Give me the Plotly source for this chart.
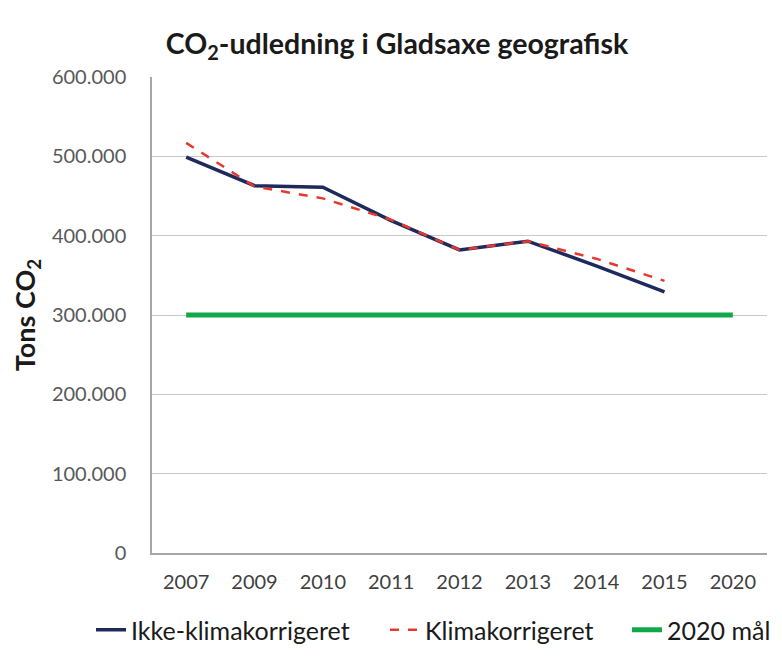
import plotly.graph_objects as go

years = ["2007", "2009", "2010", "2011", "2012", "2013", "2014", "2015", "2020"]
ikke_klima = [499000, 463000, 461000, 419000, 382000, 393000, 362000, 329000, None]
klima = [517000, 462000, 447000, 420000, 382000, 393000, 371000, 343000, None]
maal_2020 = [300000] * 9
y_ticks = [0, 100000, 200000, 300000, 400000, 500000, 600000]
y_tick_labels = ["0", "100.000", "200.000", "300.000", "400.000", "500.000", "600.000"]

FONT = "Lato"
W, H = 782, 670
OFF = 8  # page body margin


def cx(px):
    return (px - OFF) / W


def cy(py):
    return 1 - (py - OFF) / H


fig = go.Figure()
fig.add_trace(go.Scatter(x=years, y=ikke_klima, mode="lines", name="Ikke-klimakorrigeret",
                         line=dict(color="#1F2A5C", width=3.5), legend="legend"))
fig.add_trace(go.Scatter(x=years, y=klima, mode="lines", name="Klimakorrigeret",
                         line=dict(color="#E8382E", width=2.5, dash="dash"), legend="legend2"))
fig.add_trace(go.Scatter(x=years, y=maal_2020, mode="lines", name="2020 mål",
                         line=dict(color="#12A84A", width=5), legend="legend3"))

leg_common = dict(orientation="h", xref="container", yref="container", yanchor="middle",
                  xanchor="left", font=dict(family=FONT, size=25, color="#1a1a1a"),
                  itemwidth=30, bgcolor="rgba(0,0,0,0)")

fig.update_layout(
    width=W, height=H,
    paper_bgcolor="white", plot_bgcolor="white",
    margin=dict(l=152 - OFF, r=W - (767 - OFF), t=77 - OFF, b=H - (553 - OFF)),
    font=dict(family=FONT, size=20, color="#404040"),
    title=dict(text="<b>CO<sub>2</sub>-udledning i Gladsaxe geografisk</b>",
               xref="container", x=cx(397), xanchor="center",
               yref="container", y=cy(44), yanchor="middle",
               font=dict(family=FONT, size=28.5, color="#1a1a1a")),
    xaxis=dict(type="category", showgrid=False, showline=True, linecolor="#A6A6A6",
               linewidth=1.5, ticks="", tickfont=dict(size=20, color="#404040"),
               range=[-0.5, 8.5], automargin=False, ticklabelstandoff=10),
    yaxis=dict(range=[0, 600000], tickvals=y_ticks, ticktext=y_tick_labels,
               showgrid=True, gridcolor="#C8C8C8", gridwidth=1.2,
               showline=True, linecolor="#A6A6A6", linewidth=1.5,
               ticks="", tickfont=dict(size=20, color="#595959"),
               zeroline=False, automargin=False, ticklabelstandoff=20,
               title=dict(text="<b>Tons CO<sub>2</sub></b>", standoff=10,
                          font=dict(size=27, color="#1a1a1a"))),
    legend=dict(x=cx(132 - 41), y=cy(630), **leg_common),
    legend2=dict(x=cx(426 - 41), y=cy(630), **leg_common),
    legend3=dict(x=cx(668 - 41), y=cy(630), **leg_common),
    showlegend=True,
)

fig.write_html("out.html")
